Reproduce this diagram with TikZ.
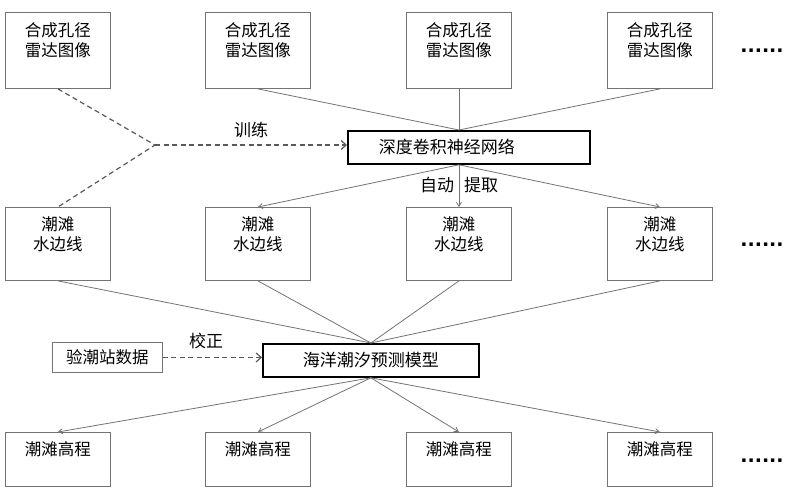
\documentclass[tikz,border=0pt]{standalone}
\usepackage{fontspec}
\setmainfont{Noto Sans CJK SC}
\newfontfamily\dotfont{DejaVu Sans}
\usetikzlibrary{arrows.meta}
\tikzset{
  boxtop/.style={draw=black!55, line width=0.9pt, minimum width=105pt, minimum height=76pt, anchor=north west, inner sep=0pt},
  boxmid/.style={draw=black!55, line width=0.9pt, minimum width=105pt, minimum height=73pt, anchor=north west, inner sep=0pt},
  boxbot/.style={draw=black!55, line width=0.9pt, minimum width=105pt, minimum height=54pt, anchor=north west, inner sep=0pt},
  txt/.style={font=\fontsize{16.5}{20.5}\selectfont, align=center, inner sep=0pt, text=black},
  thickbox/.style={draw=black, line width=1.8pt, inner ysep=0pt, font=\fontsize{17}{20}\selectfont},
  conn/.style={draw=black!55, line width=0.8pt},
  arr/.style={conn, -{Straight Barb[length=4pt,width=5pt]}},
  dashline/.style={draw=black!65, line width=1.2pt, dash pattern=on 5pt off 3.5pt},
  lbl/.style={font=\fontsize{17}{20}\selectfont, inner sep=0pt},
  dots/.style={font=\dotfont\bfseries\fontsize{19}{22}\selectfont, inner sep=0pt, anchor=base}
}
\begin{document}
\begin{tikzpicture}[x=1pt,y=-1pt]
\useasboundingbox (0,0) rectangle (800,492);
% top row
\foreach \i/\x in {1/5,2/205,3/406,4/607}{
  \node[boxtop, label={[txt, anchor=north, yshift=-10pt]north:{合成孔径\\雷达图像}}] (a\i) at (\x,12) {};
  \node[boxmid, label={[txt, anchor=north, yshift=-9pt]north:{潮滩\\水边线}}] (b\i) at (\x,207) {};
  \node[boxbot, label={[txt, anchor=north, yshift=-9pt]north:{潮滩高程}}] (c\i) at (\x,432) {};
}
\node[dots] (d1) at (762,53) {......};
\node[dots] (d2) at (762,246) {......};
\node[dots] (d3) at (762,462) {......};
% CNN
\node[thickbox, anchor=north west, minimum height=33pt, inner xsep=31pt, text width=180pt, align=left] (cnn) at (347,130) {深度卷积神经网络};
\coordinate (cin) at (a3.south |- cnn.north);
\coordinate (cout) at (a3.south |- cnn.south);
\draw[conn] (a2.south) -- (cin);
\draw[conn] (a3.south) -- (cin);
\draw[conn] (a4.south) -- (cin);
\draw[arr] (cout) -- (b2.north);
\draw[arr] (cout) -- (b3.north);
\draw[arr] (cout) -- (b4.north);
\node[lbl, fill=white, inner xsep=0pt] (auto) at (437,185) {自动};
\node[lbl] (extr) at (481,185) {提取};
% training
\coordinate (j) at (155,145);
\draw[dashline] (a1.south) -- (j) -- (b1.north);
\draw[dashline, -{Straight Barb[length=5pt,width=9pt]}] (j) -- (cnn.west |- j);
\node[lbl] (train) at (251,130) {训练};
% model
\node[thickbox, anchor=north west, minimum width=216pt, minimum height=33pt] (model) at (262,343) {海洋潮汐预测模型};
\foreach \i in {1,2,3,4}{
  \draw[conn] (b\i.south) -- (model.north);
  \draw[arr] (model.south) -- (c\i.north);
}
\node[draw=black!55, line width=0.9pt, minimum width=110pt, minimum height=30pt, anchor=north west, font=\fontsize{16.5}{20}\selectfont, inner sep=0pt] (obs) at (52,342) {验潮站数据};
\draw[dashline, -{Straight Barb[length=5pt,width=9pt]}] (obs.east) -- (model.west |- obs.east);
\node[lbl] (corr) at (206,341) {校正};
\end{tikzpicture}
\end{document}
